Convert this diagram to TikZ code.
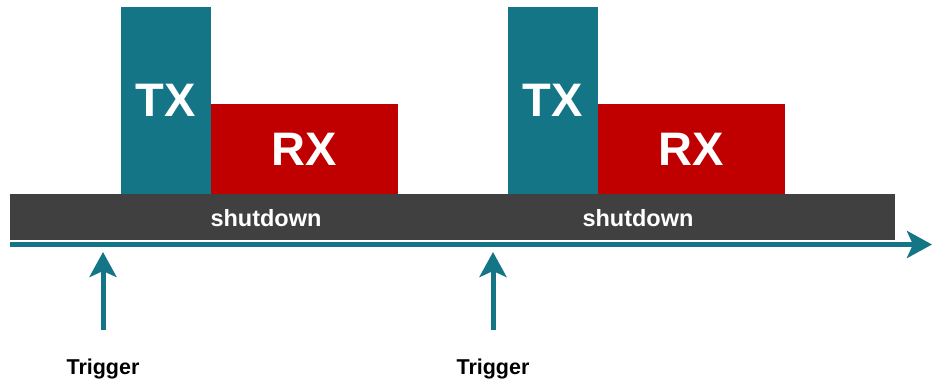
\documentclass[tikz,border=0pt]{standalone}
\usepackage{fontspec}
\setmainfont{Liberation Sans}
\usepackage{tikz}
\usetikzlibrary{positioning}
\usetikzlibrary{arrows.meta}
\tikzset{>={Stealth[length=25pt,width=27pt,inset=6pt]}}
\definecolor{txteal}{RGB}{19,117,134}
\definecolor{rxred}{RGB}{192,0,0}
\definecolor{sdgray}{RGB}{64,64,64}

\begin{document}
\begin{tikzpicture}[
    x = 1pt, y = 1pt,
    node distance = 0pt,
    txbox/.style = {fill=txteal, text=white, inner sep=0pt, outer sep=0pt,
        minimum width=90pt, minimum height=187pt,
        font=\bfseries\fontsize{47}{50}\selectfont},
    rxbox/.style = {fill=rxred, text=white, inner sep=0pt, outer sep=0pt,
        minimum width=187pt, minimum height=90pt,
        font=\bfseries\fontsize{47}{50}\selectfont},
    sdbar/.style = {fill=sdgray, inner sep=0pt, outer sep=0pt,
        minimum width=885pt, minimum height=46pt},
    sdlabel/.style = {text=white, inner sep=0pt, anchor=base,
        font=\bfseries\fontsize{23.5}{26}\selectfont},
    triglabel/.style = {inner sep=0pt, anchor=base,
        font=\bfseries\fontsize{21.5}{24}\selectfont},
    timeline/.style = {draw=txteal, line width=5pt, ->},
    trigarrow/.style = {draw=txteal, line width=5pt, ->}
  ]
  \useasboundingbox (0,0) rectangle (932,383);

  \node[sdbar, anchor=south west] (bar) at (10,143) {};

  \coordinate (t0) at (10,138.5);
  \coordinate (tend) at (932,138.5);
  \draw[timeline] (t0) -- (tend);

  \foreach \tx/\sd/\tr [count=\j] in {121/266/103, 508/638/493}
  {
    \node[txbox, anchor=south west] (tx\j) at (\tx,189) {TX};
    \node[rxbox, right=of tx\j.south east, anchor=south west] (rx\j) {RX};
    \node[sdlabel] (sd\j) at (\sd,156) {shutdown};

    \node[triglabel] (trig\j) at (\tr,9) {Trigger};
    \coordinate (foot\j) at (\tr,53);
    \coordinate (hit\j) at (\tr,131);
    \draw[trigarrow] (foot\j) -- (hit\j);
  }
\end{tikzpicture}
\end{document}
